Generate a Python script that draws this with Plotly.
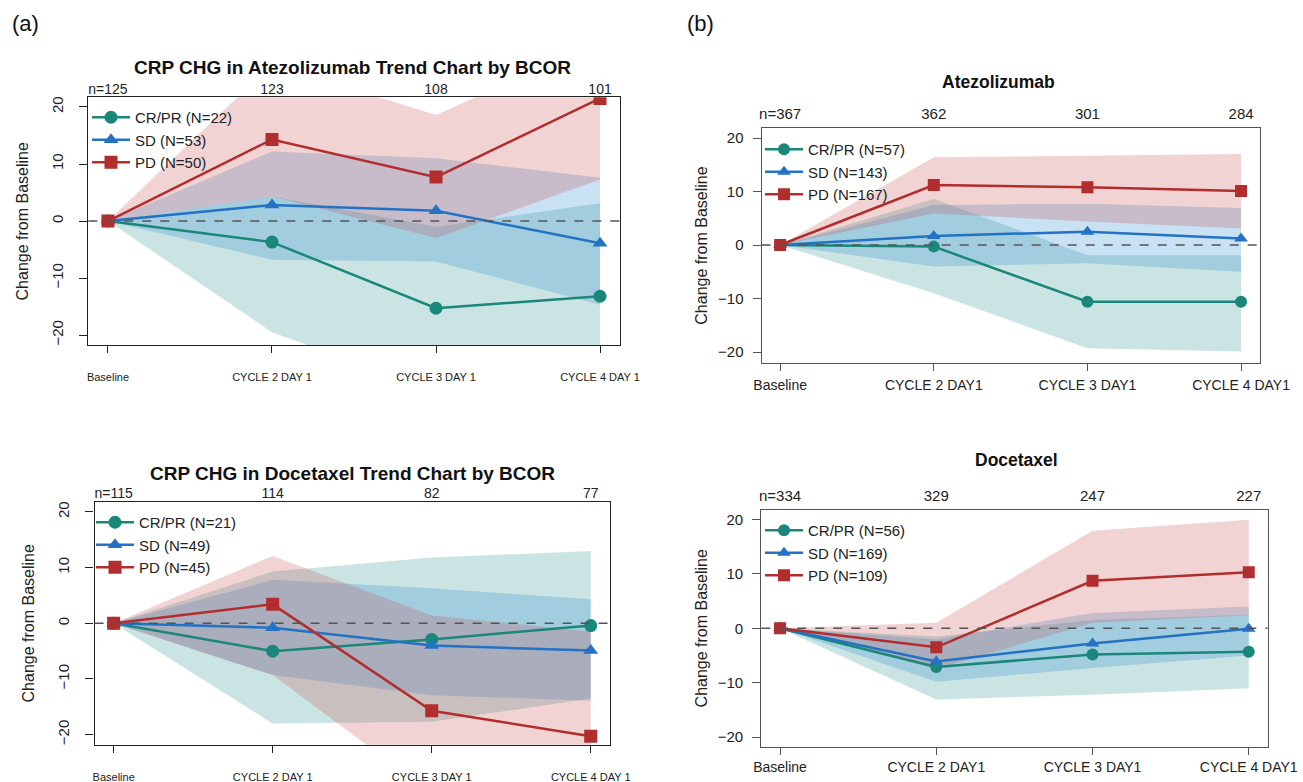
import plotly.graph_objects as go

W, H = 1303, 782

visits = [0, 1, 2, 3]
a_xlabels = ["Baseline", "CYCLE 2 DAY 1", "CYCLE 3 DAY 1", "CYCLE 4 DAY 1"]
b_xlabels = ["Baseline", "CYCLE 2 DAY1", "CYCLE 3 DAY1", "CYCLE 4 DAY1"]
y_ticks = [-20, -10, 0, 10, 20]
group_names = ["CR/PR", "SD", "PD"]

# ---- (a) Atezolizumab ----
a_ate_n = ["n=125", "123", "108", "101"]
a_ate_N = [22, 53, 50]
a_ate_cr_mean = [0, -3.7, -15.3, -13.2]
a_ate_cr_hi = [0, 4.3, -1.0, 3.1]
a_ate_cr_lo = [0, -19.5, -30, -30]
a_ate_sd_mean = [0, 2.8, 1.8, -3.9]
a_ate_sd_hi = [0, 12.2, 11.0, 7.6]
a_ate_sd_lo = [0, -6.8, -7.1, -14.7]
a_ate_pd_mean = [0, 14.3, 7.7, 21.5]
a_ate_pd_hi = [0, 27.5, 18.6, 31.5]
a_ate_pd_lo = [0, 4.3, -3.0, 7.3]

# ---- (a) Docetaxel ----
a_doc_n = ["n=115", "114", "82", "77"]
a_doc_N = [21, 49, 45]
a_doc_cr_mean = [0, -5.0, -2.9, -0.4]
a_doc_cr_hi = [0, 9.3, 11.8, 13.0]
a_doc_cr_lo = [0, -18.0, -17.7, -13.5]
a_doc_sd_mean = [0, -0.8, -4.0, -4.9]
a_doc_sd_hi = [0, 7.8, 6.3, 4.3]
a_doc_sd_lo = [0, -9.3, -12.9, -13.9]
a_doc_pd_mean = [0, 3.4, -15.7, -20.3]
a_doc_pd_hi = [0, 12.1, 1.4, -1.5]
a_doc_pd_lo = [0, -9.3, -30.5, -35]

# ---- (b) Atezolizumab ----
b_ate_n = ["n=367", "362", "301", "284"]
b_ate_N = [57, 143, 167]
b_ate_cr_mean = [0, -0.3, -10.6, -10.6]
b_ate_cr_hi = [0, 8.6, -1.9, -1.9]
b_ate_cr_lo = [0, -9.0, -19.3, -19.9]
b_ate_sd_mean = [0, 1.7, 2.5, 1.2]
b_ate_sd_hi = [0, 7.5, 7.7, 6.9]
b_ate_sd_lo = [0, -4.0, -3.4, -5.0]
b_ate_pd_mean = [0, 11.2, 10.8, 10.1]
b_ate_pd_hi = [0, 16.4, 16.7, 17.0]
b_ate_pd_lo = [0, 5.9, 4.4, 3.1]

# ---- (b) Docetaxel ----
b_doc_n = ["n=334", "329", "247", "227"]
b_doc_N = [56, 169, 109]
b_doc_cr_mean = [0, -7.1, -4.8, -4.3]
b_doc_cr_hi = [0, -1.5, 1.5, 2.5]
b_doc_cr_lo = [0, -13.1, -12.2, -11.0]
b_doc_sd_mean = [0, -6.1, -2.8, -0.1]
b_doc_sd_hi = [0, -2.0, 2.8, 4.0]
b_doc_sd_lo = [0, -9.8, -7.3, -5.0]
b_doc_pd_mean = [0, -3.5, 8.7, 10.3]
b_doc_pd_hi = [0, 1.0, 17.9, 19.9]
b_doc_pd_lo = [0, -7.5, 1.0, 2.4]

LINE_COLORS = ["#1a877a", "#2372c4", "#b22d2e"]
FILL_COLORS = ["rgba(60,155,155,0.27)", "rgba(50,145,210,0.27)", "rgba(200,80,80,0.25)"]
SYMBOLS = ["circle", "triangle-up", "square"]
FONT = "Liberation Sans, Arial, sans-serif"

panels = [
    dict(style="a", n=a_ate_n, N=a_ate_N, xlabels=a_xlabels,
         mean=[a_ate_cr_mean, a_ate_sd_mean, a_ate_pd_mean],
         hi=[a_ate_cr_hi, a_ate_sd_hi, a_ate_pd_hi],
         lo=[a_ate_cr_lo, a_ate_sd_lo, a_ate_pd_lo],
         px=(88.3, 619.7), py=(97.3, 345.3), yr=(-21.8, 21.7),
         leg=(87, 101), xstand=14),
    dict(style="a", n=a_doc_n, N=a_doc_N, xlabels=a_xlabels,
         mean=[a_doc_cr_mean, a_doc_sd_mean, a_doc_pd_mean],
         hi=[a_doc_cr_hi, a_doc_sd_hi, a_doc_pd_hi],
         lo=[a_doc_cr_lo, a_doc_sd_lo, a_doc_pd_lo],
         px=(94.6, 609.8), py=(501.9, 744.7), yr=(-21.8, 21.8),
         leg=(91, 506), xstand=15),
    dict(style="b", n=b_ate_n, N=b_ate_N, xlabels=b_xlabels,
         mean=[b_ate_cr_mean, b_ate_sd_mean, b_ate_pd_mean],
         hi=[b_ate_cr_hi, b_ate_sd_hi, b_ate_pd_hi],
         lo=[b_ate_cr_lo, b_ate_sd_lo, b_ate_pd_lo],
         px=(761.7, 1259.5), py=(128.4, 362.7), yr=(-22.0, 21.8),
         leg=(760, 133), xstand=2),
    dict(style="b", n=b_doc_n, N=b_doc_N, xlabels=b_xlabels,
         mean=[b_doc_cr_mean, b_doc_sd_mean, b_doc_pd_mean],
         hi=[b_doc_cr_hi, b_doc_sd_hi, b_doc_pd_hi],
         lo=[b_doc_cr_lo, b_doc_sd_lo, b_doc_pd_lo],
         px=(761.3, 1267.5), py=(509.5, 747.0), yr=(-21.8, 21.8),
         leg=(760, 514), xstand=0),
]

fig = go.Figure()
layout = dict(width=W, height=H, margin=dict(l=0, r=0, t=0, b=0, autoexpand=False),
              paper_bgcolor="white", plot_bgcolor="white",
              font=dict(family=FONT, color="#111"), showlegend=True)
shapes = []

for k, p in enumerate(panels, start=1):
    xs = "" if k == 1 else str(k)
    xref, yref = "x" + xs, "y" + xs
    top_id = str(k + 4)
    legend_id = "legend" if k == 1 else "legend" + str(k)
    a_style = p["style"] == "a"

    # bands
    for g in range(3):
        fig.add_trace(go.Scatter(
            x=visits + visits[::-1], y=p["hi"][g] + p["lo"][g][::-1],
            fill="toself", fillcolor=FILL_COLORS[g], mode="lines",
            line=dict(width=0), hoverinfo="skip", showlegend=False,
            xaxis=xref, yaxis=yref))
    # lines
    for g in range(3):
        fig.add_trace(go.Scatter(
            x=visits, y=p["mean"][g], mode="lines+markers",
            name=f"{group_names[g]} (N={p['N'][g]})",
            line=dict(color=LINE_COLORS[g], width=2.5),
            marker=dict(symbol=SYMBOLS[g], size=13 if a_style else 12,
                        color=LINE_COLORS[g]),
            legend=legend_id, xaxis=xref, yaxis=yref))
    # invisible trace on top n-axis
    fig.add_trace(go.Scatter(x=visits, y=[None] * 4, mode="markers",
                             showlegend=False, hoverinfo="skip",
                             xaxis="x" + top_id, yaxis=yref))

    x0, x1 = p["px"]
    y0, y1 = p["py"]
    xdom = [x0 / W, x1 / W]
    ydom = [1 - y1 / H, 1 - y0 / H]
    frame_col = "#222" if a_style else "#555"

    layout["xaxis" + xs] = dict(
        domain=xdom, anchor=yref, range=[-0.12, 3.12], automargin=False,
        tickvals=visits, ticktext=p["xlabels"],
        showline=True, mirror=True, linecolor=frame_col, linewidth=1.3,
        ticks="outside", ticklen=7, tickcolor=frame_col,
        showgrid=False, zeroline=False,
        ticklabelstandoff=p["xstand"],
        tickfont=dict(size=11 if a_style else 14,
                      family=("Liberation Sans Narrow, " + FONT) if a_style else FONT,
                      color="#222"))
    layout["xaxis" + top_id] = dict(
        domain=xdom, anchor=yref, overlaying=xref, side="top", automargin=False,
        range=[-0.12, 3.12], tickvals=visits, ticktext=p["n"],
        showline=False, ticks="", showgrid=False, zeroline=False,
        ticklabelstandoff=(0 if a_style else 5),
        tickfont=dict(size=14 if a_style else 15, color="#222"))
    layout["yaxis" + xs] = dict(
        domain=ydom, anchor=xref, range=list(p["yr"]), automargin=False,
        tickvals=y_ticks,
        showline=True, mirror=True, linecolor=frame_col, linewidth=1.3,
        ticks="outside", ticklen=8, tickcolor=frame_col,
        showgrid=False, zeroline=False,
        tickangle=(-90 if a_style else 0),
        ticklabelstandoff=(10 if a_style else 6),
        tickfont=dict(size=15, color="#222"),
        title=dict(text="Change from Baseline",
                   font=dict(size=16, color="#222"),
                   standoff=(16 if a_style else 6)))
    layout[legend_id] = dict(
        x=p["leg"][0] / W, y=1 - p["leg"][1] / H, xanchor="left", yanchor="top",
        bgcolor="rgba(0,0,0,0)", font=dict(size=15, color="#222"),
        tracegroupgap=0, itemwidth=38)
    shapes.append(dict(type="line", xref=xref + " domain", yref=yref,
                       x0=0, x1=1, y0=0, y1=0,
                       line=dict(color="#555", width=1.4, dash="dash"), layer="above"))


def note(text, x, y, size):
    return dict(text=text, x=x / W, y=1 - y / H, xref="paper", yref="paper",
                xanchor="center", yanchor="middle", showarrow=False,
                font=dict(size=size, color="#111"))


annotations = [
    note("(a)", 25, 23, 22),
    note("(b)", 700, 23, 22),
    note("<b>CRP CHG in Atezolizumab Trend Chart by BCOR</b>", 352, 68, 19),
    note("<b>CRP CHG in Docetaxel Trend Chart by BCOR</b>", 352, 473, 19),
    note("<b>Atezolizumab</b>", 998, 82, 17.5),
    note("<b>Docetaxel</b>", 1016, 460, 17.5),
]
layout["annotations"] = annotations
layout["shapes"] = shapes
fig.update_layout(**layout)
fig.write_html("out.html")
